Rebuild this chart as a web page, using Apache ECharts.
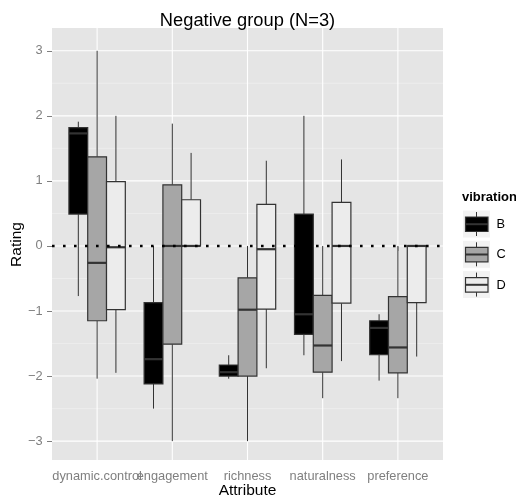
<!DOCTYPE html>
<html><head><meta charset="utf-8">
<script src="https://cdn.jsdelivr.net/npm/echarts@6/dist/echarts.min.js"></script>
<style>html,body{margin:0;padding:0;background:#fff}#c{width:516px;height:497px}</style>
</head><body><div id="c"></div>
<script>
// ---- data ----
const categories = ['dynamic.control', 'engagement', 'richness', 'naturalness', 'preference'];
const groups = ['B', 'C', 'D'];
// each entry: [lower whisker, Q1, median, Q3, upper whisker]
const statsB = [
  [-0.77, 0.49, 1.73, 1.82, 1.91],
  [-2.50, -2.12, -1.74, -0.87, 0.00],
  [-2.04, -2.00, -1.94, -1.83, -1.68],
  [-1.68, -1.36, -1.05, 0.49, 2.00],
  [-2.07, -1.67, -1.26, -1.15, -1.05]
];
const statsC = [
  [-2.04, -1.15, -0.26, 1.37, 3.00],
  [-3.00, -1.51, 0.00, 0.94, 1.88],
  [-3.00, -2.00, -0.98, -0.49, 0.00],
  [-2.34, -1.94, -1.53, -0.76, 0.00],
  [-2.34, -1.95, -1.56, -0.78, 0.00]
];
const statsD = [
  [-1.95, -0.98, -0.02, 0.99, 2.00],
  [0.00, 0.00, 0.00, 0.71, 1.43],
  [-1.88, -0.97, -0.05, 0.64, 1.31],
  [-1.77, -0.88, 0.00, 0.67, 1.33],
  [-1.70, -0.87, 0.00, 0.00, 0.00]
];
const yTicks = [-3, -2, -1, 0, 1, 2, 3];
const yTickLabels = ['\u22123', '\u22122', '\u22121', '0', '1', '2', '3'];
const yMinor = [-2.5, -1.5, -0.5, 0.5, 1.5, 2.5];
const refLineY = 0;
const titleText = 'Negative group (N=3)';
const xTitle = 'Attribute';
const yTitle = 'Rating';
const legendTitle = 'vibration';

// ---- styling ----
const fills = { B: '#000000', C: '#a6a6a6', D: '#ececec' };
const outline = '#333333';
const dodge = 0.75;
const boxW = dodge / groups.length;
const X_MIN = 0.4, X_MAX = 5.6;
const Y_MIN = -3.29, Y_MAX = 3.35;
const font = "'Liberation Sans', Arial, Helvetica, sans-serif";

const allStats = { B: statsB, C: statsC, D: statsD };

function boxRender(params, api) {
  const x = api.value(0);
  const p = [1, 2, 3, 4, 5].map(i => api.coord([x, api.value(i)]));
  const w = api.size([boxW, 0])[0];
  const cx = p[0][0];
  const fill = api.value(6) === 0 ? fills.B : (api.value(6) === 1 ? fills.C : fills.D);
  const left = cx - w / 2;
  return {
    type: 'group',
    children: [
      { type: 'line', shape: { x1: cx, y1: p[4][1], x2: cx, y2: p[3][1] }, style: { stroke: outline, lineWidth: 1 } },
      { type: 'line', shape: { x1: cx, y1: p[1][1], x2: cx, y2: p[0][1] }, style: { stroke: outline, lineWidth: 1 } },
      { type: 'rect', shape: { x: left, y: p[3][1], width: w, height: p[1][1] - p[3][1] }, style: { fill: fill, stroke: outline, lineWidth: 1.2 } },
      { type: 'line', shape: { x1: left, y1: p[2][1], x2: left + w, y2: p[2][1] }, style: { stroke: outline, lineWidth: 2.2 } }
    ]
  };
}

const boxSeries = groups.map((g, gi) => ({
  type: 'custom',
  name: g,
  renderItem: boxRender,
  encode: { x: 0, y: [1, 2, 3, 4, 5] },
  z: 5,
  data: allStats[g].map((s, ci) => [ci + 1 + (gi - (groups.length - 1) / 2) * boxW, ...s, gi])
}));

// gridlines (minor horizontals, major horizontals, verticals)
const gridData = [];
yMinor.forEach(v => gridData.push([0, v]));
yTicks.forEach(v => gridData.push([1, v]));
categories.forEach((c, i) => gridData.push([2, i + 1]));
const gridSeries = {
  type: 'custom',
  silent: true,
  z: 1,
  renderItem: function (params, api) {
    const kind = api.value(0), v = api.value(1);
    let a, b;
    if (kind === 2) {
      a = api.coord([v, Y_MIN]); b = api.coord([v, Y_MAX]);
    } else {
      a = api.coord([X_MIN, v]); b = api.coord([X_MAX, v]);
    }
    return { type: 'line', shape: { x1: a[0], y1: a[1], x2: b[0], y2: b[1] },
      style: { stroke: kind === 0 ? '#f2f2f2' : '#ffffff', lineWidth: kind === 0 ? 0.6 : 1.1 } };
  },
  data: gridData
};

// category tick labels placed through the x scale
const xLabelSeries = {
  type: 'custom',
  silent: true,
  clip: false,
  z: 3,
  renderItem: function (params, api) {
    const pt = api.coord([api.value(0), Y_MIN]);
    return { type: 'text', x: pt[0], y: pt[1] + 9.5,
      style: { text: categories[params.dataIndex], font: '12.8px ' + font, fill: '#7f7f7f', align: 'center', verticalAlign: 'top' } };
  },
  data: categories.map((c, i) => [i + 1])
};

const refSeries = {
  type: 'custom',
  silent: true,
  z: 10,
  renderItem: function (params, api) {
    const a = api.coord([X_MIN, api.value(0)]);
    const b = api.coord([X_MAX, api.value(0)]);
    return { type: 'line', shape: { x1: a[0], y1: a[1], x2: b[0], y2: b[1] },
      style: { stroke: '#000000', lineWidth: 2.6, lineDash: [2.6, 8.4], lineCap: 'butt' } };
  },
  data: [[refLineY]]
};

// titles and legend (drawn as graphic)
const textEls = [
  { type: 'text', x: 247.5, y: 20.5, style: { text: titleText, font: '18.3px ' + font, fill: '#000', align: 'center', verticalAlign: 'middle' } },
  { type: 'text', x: 247.5, y: 490.6, style: { text: xTitle, font: '15.5px ' + font, fill: '#000', align: 'center', verticalAlign: 'middle' } },
  { type: 'text', x: 16.8, y: 244.5, rotation: Math.PI / 2, style: { text: yTitle, font: '15.5px ' + font, fill: '#000', align: 'center', verticalAlign: 'middle' } }
];
const legendChildren = [
  { type: 'text', x: 462, y: 191, style: { text: legendTitle, font: 'bold 13px ' + font, fill: '#000' } }
];
groups.forEach((g, i) => {
  const top = 210 + i * 30.3;
  legendChildren.push(
    { type: 'rect', shape: { x: 462.5, y: top, width: 28, height: 28 }, style: { fill: '#f2f2f2', stroke: '#ffffff', lineWidth: 1 } },
    { type: 'line', shape: { x1: 476.5, y1: top + 2, x2: 476.5, y2: top + 26 }, style: { stroke: outline, lineWidth: 1 } },
    { type: 'rect', shape: { x: 465.5, y: top + 7, width: 22.5, height: 14.5 }, style: { fill: fills[g], stroke: outline, lineWidth: 1.2 } },
    { type: 'line', shape: { x1: 465.5, y1: top + 14.2, x2: 488, y2: top + 14.2 }, style: { stroke: outline, lineWidth: 2 } },
    { type: 'text', x: 496.5, y: top + 14.5, style: { text: g, font: '12.8px ' + font, fill: '#000', verticalAlign: 'middle' } }
  );
});

const chart = echarts.init(document.getElementById('c'), null, { renderer: 'canvas' });
chart.setOption({
  animation: false,
  backgroundColor: '#ffffff',
  grid: { left: 52, right: 73, top: 28, bottom: 37, show: true, backgroundColor: '#e5e5e5', borderWidth: 0,
    containLabel: false, outerBoundsMode: 'none' },
  xAxis: {
    type: 'value', min: X_MIN, max: X_MAX,
    axisLine: { show: false },
    axisTick: { show: true, length: 5, customValues: categories.map((c, i) => i + 1), lineStyle: { color: '#7f7f7f' } },
    axisLabel: { show: false },
    splitLine: { show: false }
  },
  yAxis: {
    type: 'value', min: Y_MIN, max: Y_MAX,
    axisLine: { show: false },
    axisTick: { show: true, length: 5, customValues: yTicks, lineStyle: { color: '#7f7f7f' } },
    axisLabel: {
      customValues: yTicks, margin: 9.5, showMinLabel: true, showMaxLabel: true,
      formatter: v => yTickLabels[yTicks.indexOf(Math.round(v))] || '',
      fontFamily: font, fontSize: 12.8, color: '#7f7f7f'
    },
    splitLine: { show: false }
  },
  graphic: { elements: [...textEls, { type: 'group', children: legendChildren }] },
  series: [gridSeries, xLabelSeries, ...boxSeries, refSeries]
});
</script></body></html>
